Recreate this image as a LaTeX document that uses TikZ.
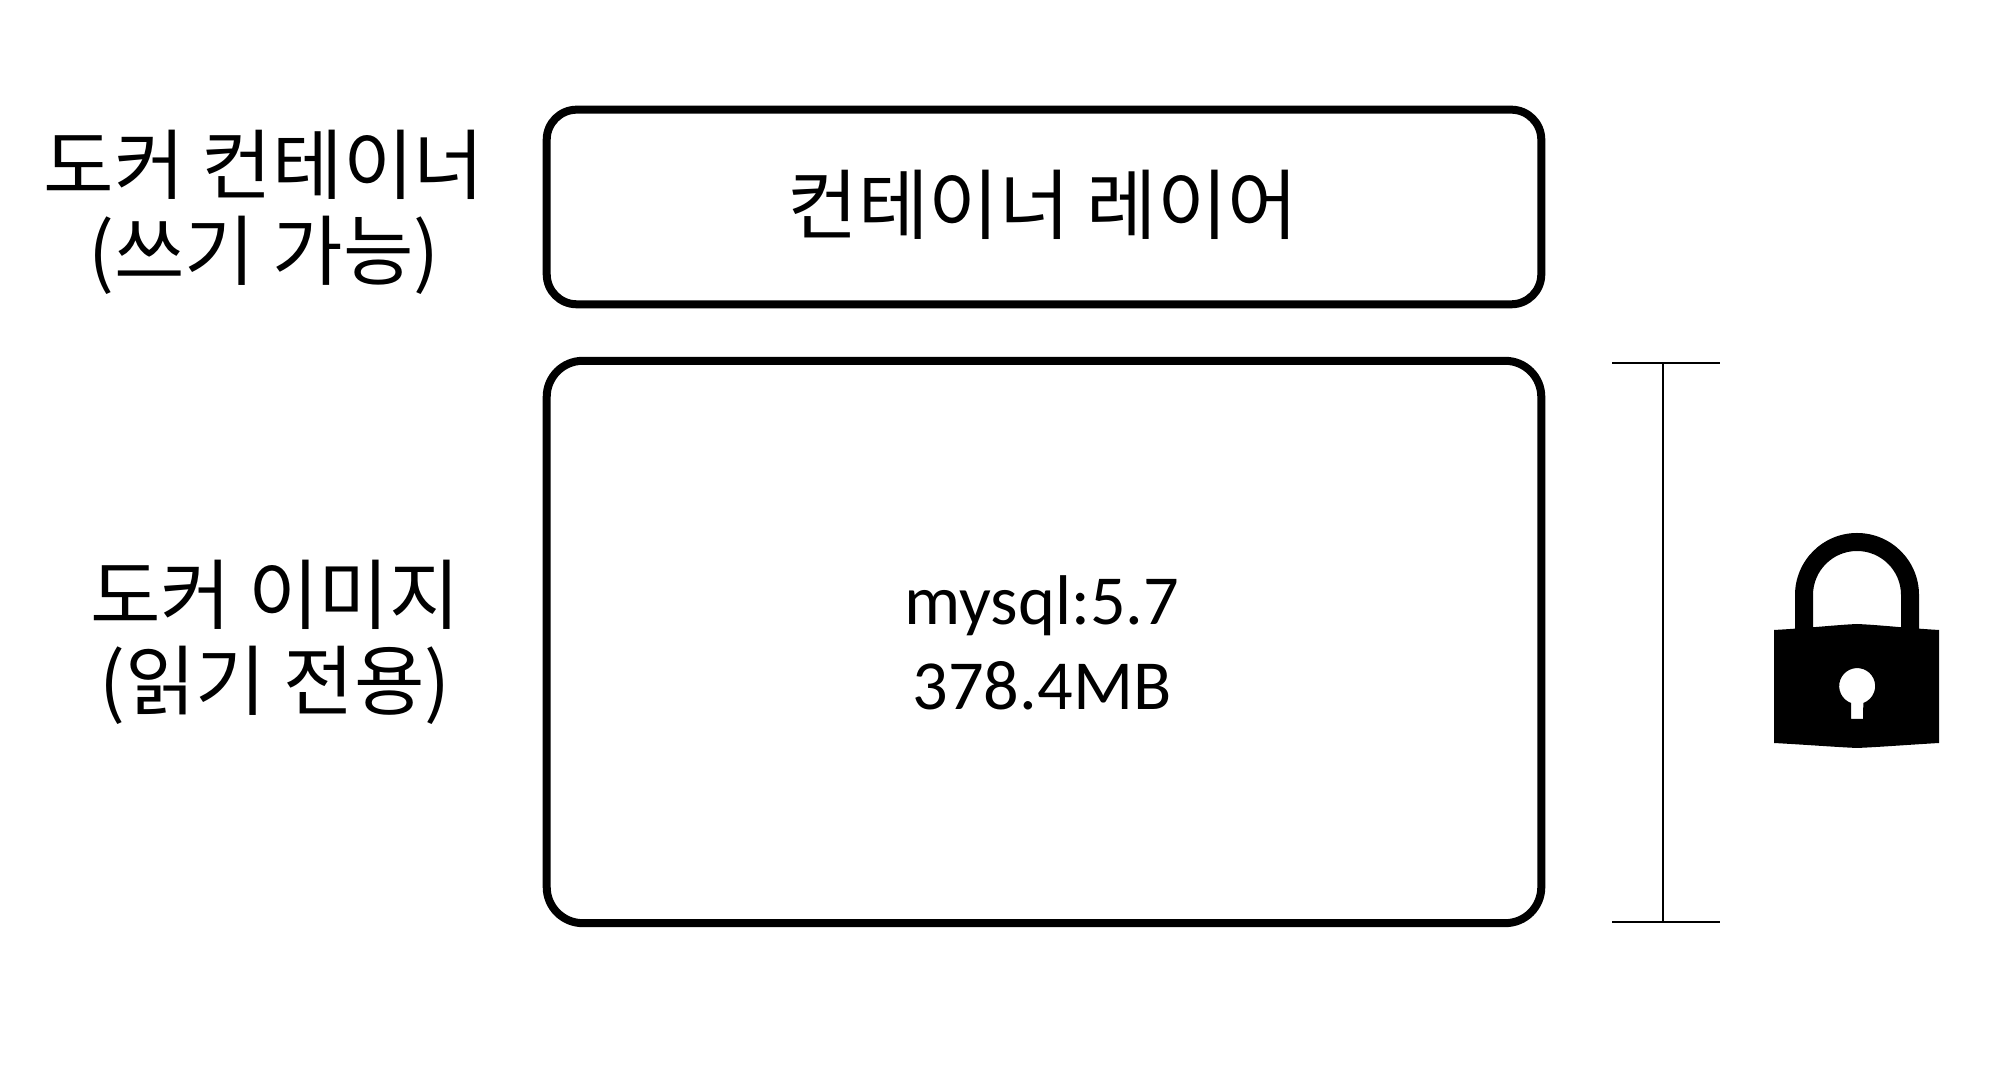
\documentclass[tikz,border=0pt]{standalone}
\usepackage{fontspec}
\usetikzlibrary{calc}
\setmainfont{Carlito}
\newfontfamily\kofont{Noto Sans CJK KR}
\newcommand{\kartext}{\fontsize{20}{24}\selectfont}
\newcommand{\kotext}{\kofont\fontsize{21.8}{24.4}\selectfont}
\tikzset{
  katman/.style={draw=black,line width=0.08cm,minimum width=9.94cm},
  etiket/.style={align=center,font=\kotext},
  olcu/.style={draw=black,line width=0.02cm}
}
\begin{document}
\begin{tikzpicture}[x=0.01cm,y=-0.01cm]
\useasboundingbox (0,0) rectangle (2000,1077);
% Katmanlar
\node[katman,rounded corners=0.3cm,minimum height=1.945cm] (konteyner) at (1044,207) {};
\node[katman,rounded corners=0.36cm,minimum height=5.62cm] (imaj) at (1044,642) {};
\node[etiket] (konteynerYazi) at (1043,205) {컨테이너 레이어};
\node[align=center,font=\kartext] (imajYazi) at (1042,643) {mysql:5.7\\378.4MB};
% Etiketler
\node[etiket] (konteynerEtiket) at (264,212) {도커 컨테이너\\(쓰기 가능)};
\node[etiket] (imajEtiket) at (275,642) {도커 이미지\\(읽기 전용)};
% Olcu cizgisi
\coordinate (olcuUst) at (1663,363);
\coordinate (olcuAlt) at (1663,922);
\draw[olcu] (olcuUst) -- (olcuAlt);
\draw[olcu] ($(olcuUst)+(-51,0)$) -- ($(olcuUst)+(57,0)$);
\draw[olcu] ($(olcuAlt)+(-51,0)$) -- ($(olcuAlt)+(57,0)$);
% Kilit
\fill[black] (1795,632) -- (1795,595) arc[start angle=180,end angle=360,x radius=62,y radius=62] -- (1919,632)
  -- (1901,632) -- (1901,595) arc[start angle=360,end angle=180,x radius=44,y radius=44] -- (1813,632) -- cycle;
\fill[black,even odd rule] (1774,630) .. controls (1810,628) and (1835,625) .. (1857,624)
  .. controls (1880,625) and (1905,628) .. (1939,630) -- (1939,743)
  .. controls (1905,745) and (1880,747) .. (1857,748)
  .. controls (1835,747) and (1810,745) .. (1774,743) -- cycle
  (1851,719) -- (1851,703) arc[start angle=110,end angle=430,x radius=18,y radius=18] -- (1863,719) -- cycle;
\end{tikzpicture}
\end{document}
